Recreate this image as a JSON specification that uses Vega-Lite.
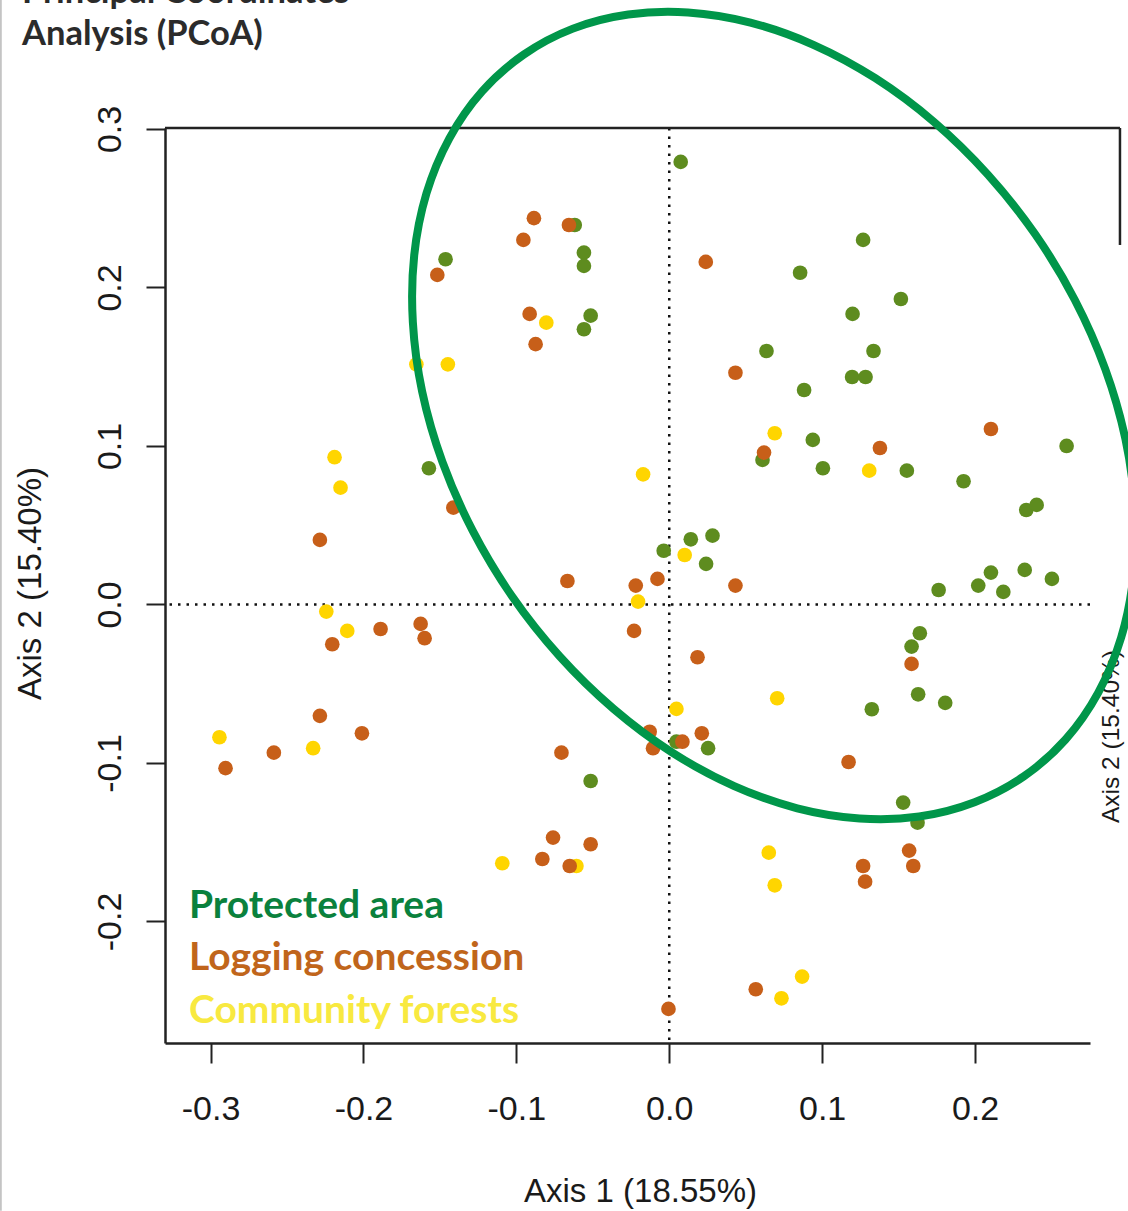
{
  "$schema": "https://vega.github.io/schema/vega-lite/v6.json",
  "width": 925,
  "height": 915,
  "autosize": "none",
  "padding": {"left": 165, "top": 128, "right": 38, "bottom": 168},
  "background": "white",
  "config": {
    "view": {"stroke": null},
    "axis": {"grid": false, "labelFont": "Liberation Sans", "titleFont": "Liberation Sans", "labelColor": "#1a1a1a", "titleColor": "#1a1a1a", "titleFontWeight": "normal", "tickColor": "#222", "domainColor": "#222", "tickWidth": 2, "domainWidth": 2.5, "labelOverlap": false, "labelFlush": false}
  },
  "title": {
    "text": ["Principal Coordinates", "Analysis (PCoA)"],
    "anchor": "start",
    "frame": "group",
    "font": "Lato",
    "fontSize": 34.5,
    "fontWeight": "bold",
    "color": "#2b2b2b",
    "lineHeight": 42,
    "offset": 0,
    "dx": -143,
    "dy": 57
  },
  "datasets": {
    "pts": [
      {"g": "Protected area", "x": -0.0618, "y": 0.2394},
      {"g": "Protected area", "x": -0.0558, "y": 0.2220},
      {"g": "Protected area", "x": -0.0558, "y": 0.2136},
      {"g": "Protected area", "x": -0.1463, "y": 0.2178},
      {"g": "Protected area", "x": -0.0514, "y": 0.1822},
      {"g": "Protected area", "x": -0.0558, "y": 0.1736},
      {"g": "Protected area", "x": 0.0075, "y": 0.2792},
      {"g": "Protected area", "x": 0.1268, "y": 0.2300},
      {"g": "Protected area", "x": 0.0856, "y": 0.2093},
      {"g": "Protected area", "x": 0.1515, "y": 0.1927},
      {"g": "Protected area", "x": 0.1199, "y": 0.1833},
      {"g": "Protected area", "x": 0.0636, "y": 0.1599},
      {"g": "Protected area", "x": 0.1336, "y": 0.1599},
      {"g": "Protected area", "x": 0.1196, "y": 0.1435},
      {"g": "Protected area", "x": 0.1284, "y": 0.1435},
      {"g": "Protected area", "x": 0.0882, "y": 0.1353},
      {"g": "Protected area", "x": 0.0939, "y": 0.1038},
      {"g": "Protected area", "x": 0.2599, "y": 0.1000},
      {"g": "Protected area", "x": 0.0610, "y": 0.0912},
      {"g": "Protected area", "x": 0.1005, "y": 0.0859},
      {"g": "Protected area", "x": 0.1554, "y": 0.0844},
      {"g": "Protected area", "x": 0.1925, "y": 0.0777},
      {"g": "Protected area", "x": 0.2335, "y": 0.0596},
      {"g": "Protected area", "x": 0.2403, "y": 0.0628},
      {"g": "Protected area", "x": 0.0141, "y": 0.0411},
      {"g": "Protected area", "x": 0.0283, "y": 0.0434},
      {"g": "Protected area", "x": -0.0036, "y": 0.0339},
      {"g": "Protected area", "x": 0.0241, "y": 0.0256},
      {"g": "Protected area", "x": 0.1762, "y": 0.0091},
      {"g": "Protected area", "x": 0.2021, "y": 0.0119},
      {"g": "Protected area", "x": 0.2104, "y": 0.0201},
      {"g": "Protected area", "x": 0.2185, "y": 0.0079},
      {"g": "Protected area", "x": 0.2325, "y": 0.0218},
      {"g": "Protected area", "x": 0.2503, "y": 0.0161},
      {"g": "Protected area", "x": 0.1639, "y": -0.0182},
      {"g": "Protected area", "x": 0.1585, "y": -0.0266},
      {"g": "Protected area", "x": 0.1628, "y": -0.0567},
      {"g": "Protected area", "x": 0.1805, "y": -0.0621},
      {"g": "Protected area", "x": 0.1325, "y": -0.0661},
      {"g": "Protected area", "x": 0.0047, "y": -0.0866},
      {"g": "Protected area", "x": 0.0254, "y": -0.0907},
      {"g": "Protected area", "x": -0.1572, "y": 0.0859},
      {"g": "Protected area", "x": -0.0514, "y": -0.1114},
      {"g": "Protected area", "x": 0.1530, "y": -0.1250},
      {"g": "Protected area", "x": 0.1624, "y": -0.1377},
      {"g": "Community forests", "x": -0.0804, "y": 0.1778},
      {"g": "Community forests", "x": -0.1654, "y": 0.1515},
      {"g": "Community forests", "x": -0.1448, "y": 0.1515},
      {"g": "Community forests", "x": 0.0690, "y": 0.1080},
      {"g": "Community forests", "x": 0.1308, "y": 0.0844},
      {"g": "Community forests", "x": -0.0171, "y": 0.0821},
      {"g": "Community forests", "x": 0.0101, "y": 0.0312},
      {"g": "Community forests", "x": -0.0204, "y": 0.0018},
      {"g": "Community forests", "x": -0.2189, "y": 0.0929},
      {"g": "Community forests", "x": -0.2150, "y": 0.0737},
      {"g": "Community forests", "x": -0.2243, "y": -0.0045},
      {"g": "Community forests", "x": -0.2106, "y": -0.0167},
      {"g": "Community forests", "x": -0.2942, "y": -0.0838},
      {"g": "Community forests", "x": -0.2329, "y": -0.0907},
      {"g": "Community forests", "x": 0.0706, "y": -0.0592},
      {"g": "Community forests", "x": 0.0047, "y": -0.0659},
      {"g": "Community forests", "x": -0.1092, "y": -0.1633},
      {"g": "Community forests", "x": -0.0607, "y": -0.1650},
      {"g": "Community forests", "x": 0.0651, "y": -0.1566},
      {"g": "Community forests", "x": 0.0690, "y": -0.1772},
      {"g": "Community forests", "x": 0.0869, "y": -0.2348},
      {"g": "Community forests", "x": 0.0734, "y": -0.2485},
      {"g": "Logging concession", "x": -0.0885, "y": 0.2437},
      {"g": "Logging concession", "x": -0.0656, "y": 0.2394},
      {"g": "Logging concession", "x": -0.0954, "y": 0.2300},
      {"g": "Logging concession", "x": -0.1517, "y": 0.2079},
      {"g": "Logging concession", "x": -0.0913, "y": 0.1833},
      {"g": "Logging concession", "x": -0.0874, "y": 0.1642},
      {"g": "Logging concession", "x": 0.0239, "y": 0.2161},
      {"g": "Logging concession", "x": 0.0433, "y": 0.1462},
      {"g": "Logging concession", "x": 0.2104, "y": 0.1107},
      {"g": "Logging concession", "x": 0.1378, "y": 0.0987},
      {"g": "Logging concession", "x": 0.0620, "y": 0.0958},
      {"g": "Logging concession", "x": -0.1412, "y": 0.0611},
      {"g": "Logging concession", "x": -0.2285, "y": 0.0407},
      {"g": "Logging concession", "x": -0.0666, "y": 0.0148},
      {"g": "Logging concession", "x": -0.0077, "y": 0.0161},
      {"g": "Logging concession", "x": -0.0219, "y": 0.0119},
      {"g": "Logging concession", "x": 0.0433, "y": 0.0119},
      {"g": "Logging concession", "x": -0.0230, "y": -0.0167},
      {"g": "Logging concession", "x": 0.0185, "y": -0.0333},
      {"g": "Logging concession", "x": 0.1585, "y": -0.0375},
      {"g": "Logging concession", "x": -0.1888, "y": -0.0155},
      {"g": "Logging concession", "x": -0.1626, "y": -0.0123},
      {"g": "Logging concession", "x": -0.1600, "y": -0.0213},
      {"g": "Logging concession", "x": -0.2204, "y": -0.0251},
      {"g": "Logging concession", "x": -0.2285, "y": -0.0703},
      {"g": "Logging concession", "x": -0.2010, "y": -0.0813},
      {"g": "Logging concession", "x": -0.2586, "y": -0.0935},
      {"g": "Logging concession", "x": -0.2902, "y": -0.1033},
      {"g": "Logging concession", "x": -0.0705, "y": -0.0935},
      {"g": "Logging concession", "x": -0.0128, "y": -0.0803},
      {"g": "Logging concession", "x": 0.0213, "y": -0.0813},
      {"g": "Logging concession", "x": 0.0086, "y": -0.0866},
      {"g": "Logging concession", "x": -0.0106, "y": -0.0907},
      {"g": "Logging concession", "x": 0.1173, "y": -0.0994},
      {"g": "Logging concession", "x": -0.0760, "y": -0.1471},
      {"g": "Logging concession", "x": -0.0514, "y": -0.1513},
      {"g": "Logging concession", "x": -0.0830, "y": -0.1606},
      {"g": "Logging concession", "x": -0.0651, "y": -0.1650},
      {"g": "Logging concession", "x": 0.1569, "y": -0.1553},
      {"g": "Logging concession", "x": 0.1596, "y": -0.1650},
      {"g": "Logging concession", "x": 0.1268, "y": -0.1650},
      {"g": "Logging concession", "x": 0.1281, "y": -0.1749},
      {"g": "Logging concession", "x": 0.0566, "y": -0.2428},
      {"g": "Logging concession", "x": -0.0005, "y": -0.2552}
    ],
    "ell": [
      {"i": 0, "ex": 0.2319, "ey": -0.1085},
      {"i": 1, "ex": 0.1997, "ey": -0.1248},
      {"i": 2, "ex": 0.1635, "ey": -0.1338},
      {"i": 3, "ex": 0.1245, "ey": -0.1350},
      {"i": 4, "ex": 0.0837, "ey": -0.1286},
      {"i": 5, "ex": 0.0425, "ey": -0.1146},
      {"i": 6, "ex": 0.0020, "ey": -0.0935},
      {"i": 7, "ex": -0.0364, "ey": -0.0659},
      {"i": 8, "ex": -0.0717, "ey": -0.0327},
      {"i": 9, "ex": -0.1027, "ey": 0.0050},
      {"i": 10, "ex": -0.1285, "ey": 0.0464},
      {"i": 11, "ex": -0.1483, "ey": 0.0898},
      {"i": 12, "ex": -0.1616, "ey": 0.1343},
      {"i": 13, "ex": -0.1677, "ey": 0.1782},
      {"i": 14, "ex": -0.1668, "ey": 0.2203},
      {"i": 15, "ex": -0.1588, "ey": 0.2593},
      {"i": 16, "ex": -0.1438, "ey": 0.2941},
      {"i": 17, "ex": -0.1224, "ey": 0.3237},
      {"i": 18, "ex": -0.0952, "ey": 0.3469},
      {"i": 19, "ex": -0.0630, "ey": 0.3633},
      {"i": 20, "ex": -0.0268, "ey": 0.3722},
      {"i": 21, "ex": 0.0123, "ey": 0.3735},
      {"i": 22, "ex": 0.0531, "ey": 0.3671},
      {"i": 23, "ex": 0.0943, "ey": 0.3531},
      {"i": 24, "ex": 0.1348, "ey": 0.3320},
      {"i": 25, "ex": 0.1732, "ey": 0.3044},
      {"i": 26, "ex": 0.2084, "ey": 0.2712},
      {"i": 27, "ex": 0.2395, "ey": 0.2334},
      {"i": 28, "ex": 0.2653, "ey": 0.1921},
      {"i": 29, "ex": 0.2851, "ey": 0.1487},
      {"i": 30, "ex": 0.2984, "ey": 0.1042},
      {"i": 31, "ex": 0.3045, "ey": 0.0603},
      {"i": 32, "ex": 0.3036, "ey": 0.0182},
      {"i": 33, "ex": 0.2956, "ey": -0.0208},
      {"i": 34, "ex": 0.2806, "ey": -0.0556},
      {"i": 35, "ex": 0.2592, "ey": -0.0852}
    ]
  },
  "resolve": {"axis": {"x": "independent", "y": "independent"}},
  "layer": [
    {
      "data": {"values": [{"a": -0.4372, "c": 0.3814, "d": -0.3826}]},
      "mark": {"type": "rule", "color": "#c4c4c4", "strokeWidth": 2, "clip": false},
      "encoding": {
        "x": {"field": "a", "type": "quantitative", "axis": null},
        "y": {"field": "c", "type": "quantitative", "axis": null},
        "y2": {"field": "d"}
      }
    },
    {
      "data": {"values": [{"z": 0}]},
      "mark": {"type": "rule", "color": "#111", "strokeWidth": 2.5, "strokeDash": [2.5, 6]},
      "encoding": {"x": {"field": "z", "type": "quantitative", "axis": null}}
    },
    {
      "data": {"values": [{"z": 0}]},
      "mark": {"type": "rule", "color": "#111", "strokeWidth": 2.5, "strokeDash": [2.5, 6]},
      "encoding": {"y": {"field": "z", "type": "quantitative", "axis": null}}
    },
    {
      "data": {"values": [{"a": -0.3298, "b": 0.2948, "c": 0.3006}]},
      "mark": {"type": "rule", "color": "#222", "strokeWidth": 2.5, "clip": false},
      "encoding": {
        "x": {"field": "a", "type": "quantitative", "axis": null},
        "x2": {"field": "b"},
        "y": {"field": "c", "type": "quantitative", "axis": null}
      }
    },
    {
      "data": {"values": [{"b": 0.2948, "c": 0.3006, "d": 0.2268}]},
      "mark": {"type": "rule", "color": "#222", "strokeWidth": 2.5, "clip": false},
      "encoding": {
        "x": {"field": "b", "type": "quantitative", "axis": null},
        "y": {"field": "c", "type": "quantitative", "axis": null},
        "y2": {"field": "d"}
      }
    },
    {
      "data": {"name": "pts"},
      "mark": {"type": "circle", "size": 215, "opacity": 1, "clip": false},
      "encoding": {
        "x": {
          "field": "x", "type": "quantitative",
          "scale": {"domain": [-0.3298, 0.2752], "nice": false, "zero": false},
          "axis": {
            "orient": "bottom",
            "title": "Axis 1 (18.55%)",
            "values": [-0.3, -0.2, -0.1, 0, 0.1, 0.2],
            "format": ".1f",
            "labelExpr": "replace(datum.label, '−', '-')",
            "labelFontSize": 34,
            "labelBaseline": "alphabetic",
            "labelPadding": 56,
            "tickSize": 20,
            "titleFontSize": 33,
            "titleX": 475,
            "titleY": 158,
            "titleAlign": "center",
            "titleBaseline": "alphabetic"
          }
        },
        "y": {
          "field": "y", "type": "quantitative",
          "scale": {"domain": [-0.2767, 0.3006], "nice": false, "zero": false},
          "axis": {
            "orient": "left",
            "title": "Axis 2 (15.40%)",
            "values": [-0.2, -0.1, 0, 0.1, 0.2, 0.3],
            "format": ".1f",
            "labelExpr": "replace(datum.label, '−', '-')",
            "labelFontSize": 34,
            "labelAngle": 270,
            "labelAlign": "center",
            "labelBaseline": "alphabetic",
            "labelPadding": 26,
            "tickSize": 19,
            "titleFontSize": 33,
            "titleAngle": 270,
            "titleX": -125,
            "titleY": 455,
            "titleAlign": "center",
            "titleBaseline": "alphabetic"
          }
        },
        "color": {
          "field": "g", "type": "nominal",
          "scale": {"domain": ["Protected area", "Logging concession", "Community forests"], "range": ["#5E8C1F", "#C75F19", "#FFD500"]},
          "legend": {
            "orient": "none",
            "legendX": -15,
            "legendY": 758,
            "title": null,
            "labelFont": "Lato",
            "labelFontSize": 39,
            "labelFontWeight": "bold",
            "labelLimit": 700,
            "labelOffset": 0,
            "symbolSize": 0,
            "symbolStrokeWidth": 0,
            "symbolOpacity": 0,
            "rowPadding": 12.5,
            "padding": 0,
            "labelColor": {"expr": "datum.value === 'Protected area' ? '#0A813D' : datum.value === 'Logging concession' ? '#C0651B' : '#F8E940'"}
          }
        }
      }
    },
    {
      "data": {"name": "ell"},
      "mark": {"type": "line", "interpolate": "cardinal-closed", "color": "#00964A", "strokeWidth": 8, "clip": false},
      "encoding": {
        "x": {"field": "ex", "type": "quantitative", "axis": null},
        "y": {
          "field": "ey", "type": "quantitative",
          "axis": {
            "orient": "right",
            "title": "Axis 2 (15.40%)",
            "domain": false,
            "ticks": false,
            "labels": false,
            "titleFontSize": 24.5,
            "titleAngle": 270,
            "titleX": 28,
            "titleY": 608,
            "titleAlign": "center",
            "titleBaseline": "alphabetic"
          }
        },
        "order": {"field": "i", "type": "quantitative"}
      }
    }
  ]
}
